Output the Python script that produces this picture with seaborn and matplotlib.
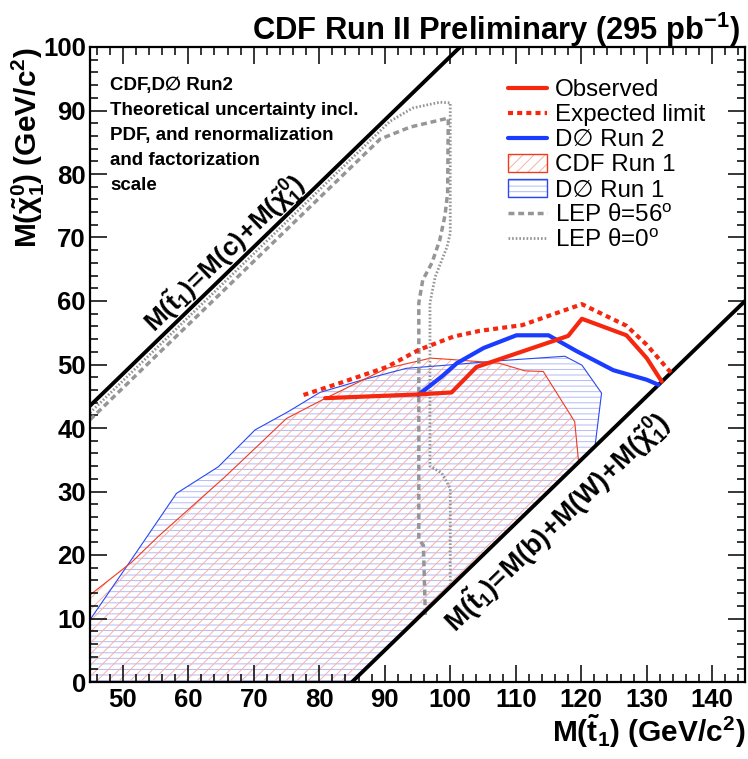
import numpy as np
import pandas as pd
import matplotlib
matplotlib.use("Agg")
import matplotlib.pyplot as plt
import seaborn as sns
from matplotlib.patches import Patch
from matplotlib.lines import Line2D
from matplotlib.legend_handler import HandlerTuple
from matplotlib.ticker import MultipleLocator

# ---------------- data ----------------
obs_x = [80.9, 95.4, 100.2, 104.0, 118.0, 120.1, 126.9, 130.0, 132.3]
obs_y = [44.7, 45.3, 45.6, 49.6, 54.5, 57.2, 54.6, 51.0, 47.3]

exp_x = [77.6, 83.5, 90.3, 95.2, 100.5, 104.5, 111.0, 120.1, 126.9, 130.0, 133.7]
exp_y = [45.2, 47.2, 49.6, 52.3, 54.4, 55.3, 56.2, 59.5, 56.1, 53.1, 48.7]

d0r2_x = [95.1, 98.7, 101.0, 105.1, 110.1, 115.0, 119.3, 124.9, 130.0, 131.8]
d0r2_y = [45.2, 48.1, 50.2, 52.6, 54.6, 54.6, 52.1, 49.1, 47.6, 46.8]

# excluded regions (closed along the kinematic limit and the axis)
cdf1_x = [45.0, 51.4, 55.4, 65.6, 70.2, 75.0, 80.6, 90.3, 97.0, 100.0, 107.5,
          111.4, 114.2, 119.0, 119.6, 85.0, 45.0]
cdf1_y = [13.7, 18.9, 22.9, 32.3, 36.8, 41.5, 44.5, 49.4, 51.0, 50.8, 50.2,
          49.0, 48.9, 41.0, 34.6, 0.0, 0.0]

d0r1_x = [45.0, 51.4, 58.2, 64.6, 70.2, 75.3, 80.1, 86.7, 93.3, 99.5, 107.6,
          117.5, 120.1, 123.1, 122.1, 85.0, 45.0]
d0r1_y = [9.8, 19.4, 29.7, 33.9, 39.7, 42.6, 45.6, 47.6, 49.4, 49.9, 50.6,
          51.3, 49.9, 45.5, 37.1, 0.0, 0.0]

lep56_x = [45.0, 89.3, 93.9, 99.7, 99.6, 99.2, 98.4, 97.2, 95.8, 95.2, 95.2, 95.9, 96.2]
lep56_y = [41.3, 85.5, 87.4, 88.8, 77.0, 73.5, 69.6, 66.0, 63.3, 59.7, 22.5, 21.5, 10.5]

lep0_x = [45.0, 90.8, 94.3, 98.4, 100.0, 100.0, 99.5, 97.7, 96.9, 96.9, 98.7, 100.0, 100.0]
lep0_y = [42.4, 88.3, 90.4, 91.3, 91.2, 70.7, 68.5, 63.8, 59.7, 34.0, 32.9, 30.5, 15.5]

# kinematic limits
kin_c_x = [45.0, 101.5]
kin_c_y = [43.5, 100.0]
kin_bw_x = [85.0, 145.0]
kin_bw_y = [0.0, 60.0]

xticks = [50, 60, 70, 80, 90, 100, 110, 120, 130, 140]
yticks = [0, 10, 20, 30, 40, 50, 60, 70, 80, 90, 100]

info_lines = ["CDF,D\u2205 Run2", "Theoretical uncertainty incl.",
              "PDF, and renormalization", "and factorization", "scale"]

legend_labels = ["Observed", "Expected limit", "D\u2205 Run 2", "CDF Run 1",
                 "D\u2205 Run 1", "LEP \u03b8=56$^{\\rm o}$", "LEP \u03b8=0$^{\\rm o}$"]

# ---------------- style ----------------
sns.set_theme(style="ticks")
plt.rcParams["font.family"] = ["Liberation Sans", "DejaVu Sans"]
plt.rcParams["mathtext.fontset"] = "custom"
plt.rcParams["mathtext.rm"] = "Liberation Sans"
plt.rcParams["mathtext.bf"] = "Liberation Sans:bold"
plt.rcParams["mathtext.it"] = "Liberation Sans:italic"
plt.rcParams["hatch.linewidth"] = 0.7
plt.rcParams["axes.axisbelow"] = False
plt.rcParams["text.color"] = "black"
plt.rcParams["axes.labelcolor"] = "black"
for a in ("xtick", "ytick"):
    plt.rcParams[f"{a}.color"] = "black"
    plt.rcParams[f"{a}.labelcolor"] = "black"
    plt.rcParams[f"{a}.direction"] = "in"
    plt.rcParams[f"{a}.major.size"] = 12.5
    plt.rcParams[f"{a}.minor.size"] = 6
    plt.rcParams[f"{a}.major.width"] = 1.1
    plt.rcParams[f"{a}.minor.width"] = 1.1
plt.rcParams["xtick.top"] = True
plt.rcParams["xtick.bottom"] = True
plt.rcParams["ytick.left"] = True
plt.rcParams["ytick.right"] = True

RED = "#f5280f"
BLUE = "#1a3cff"
RED_H = "#f6b2a6"
BLUE_H = "#b2baf7"
GRAY = "#969696"

fig = plt.figure(figsize=(7.48, 7.59), dpi=100)
ax = fig.add_axes([90 / 748, 77 / 759, 655 / 748, 635 / 759])
ax.set_axisbelow(False)

# hatched excluded regions
ax.fill(d0r1_x, d0r1_y, facecolor="none", edgecolor=BLUE_H, hatch="---", linewidth=0, zorder=1)
ax.fill(cdf1_x, cdf1_y, facecolor="none", edgecolor=RED_H, hatch="///", linewidth=0, zorder=1.1)

def line(x, y, **kw):
    df = pd.DataFrame({"x": x, "y": y})
    sns.lineplot(data=df, x="x", y="y", sort=False, estimator=None, ax=ax, **kw)

line(d0r1_x, d0r1_y, color="#2a48f0", linewidth=0.8, zorder=2)
line(cdf1_x, cdf1_y, color="#f03a1e", linewidth=0.8, zorder=2.1)

line(lep56_x, lep56_y, color=GRAY, linewidth=2.5, linestyle=(0, (1.7, 1.1)), zorder=3)
line(lep0_x, lep0_y, color=GRAY, linewidth=2.0, linestyle=(0, (0.6, 0.7)), zorder=3)

line(kin_c_x, kin_c_y, color="black", linewidth=2.8, zorder=4)
line(kin_bw_x, kin_bw_y, color="black", linewidth=2.8, zorder=4)

line(exp_x, exp_y, color=RED, linewidth=3.0, linestyle=(0, (1.2, 1.0)), zorder=5)
line(d0r2_x, d0r2_y, color=BLUE, linewidth=3.0, zorder=5)
line(obs_x, obs_y, color=RED, linewidth=3.0, zorder=6)

ax.set_xlim(45, 145)
ax.set_ylim(0, 100)
ax.set_xticks(xticks)
ax.set_xticklabels([str(v) for v in xticks], fontweight="bold")
ax.set_yticks(yticks)
ax.set_yticklabels([str(v) for v in yticks], fontweight="bold")
ax.xaxis.set_minor_locator(MultipleLocator(2))
ax.yaxis.set_minor_locator(MultipleLocator(2))
ax.tick_params(which="both", direction="in", bottom=True, left=True, top=True, right=True,
               color="black", labelcolor="black", width=1.1, labelsize=18.5)
ax.tick_params(which="major", length=12.5)
ax.tick_params(which="minor", length=6)
ax.tick_params(axis="x", pad=4)
ax.tick_params(axis="y", pad=3)
for s in ax.spines.values():
    s.set_linewidth(1.6)
    s.set_color("black")
    s.set_zorder(10)

ax.set_xlabel(r"$\mathbf{M(\tilde{t}_1)\ (GeV/c^2)}$", fontsize=21.5, loc="right", color="black")
ax.xaxis.set_label_coords(1.0, -0.047)
ax.set_ylabel(r"$\mathbf{M(\tilde{\chi}^0_1)\ (GeV/c^2)}$", fontsize=21.5, loc="top", color="black")
ax.yaxis.set_label_coords(-0.066, 1.0)

fig.text(740 / 748, 1 - 40 / 759, r"CDF Run II Preliminary (295 pb$^{\mathbf{-1}}$)",
         fontsize=22.2, fontweight="bold", ha="right", va="baseline", color="black")

for i, t in enumerate(info_lines):
    ax.text(20 / 655, (682 - (90 + 25 * i)) / 635, t, transform=ax.transAxes,
            fontsize=13.5, fontweight="bold", ha="left", va="baseline", color="black")

# labels along the kinematic lines
def angle_of(xs, ys):
    p = ax.transData.transform(np.column_stack([xs, ys]))
    return np.degrees(np.arctan2(p[1, 1] - p[0, 1], p[1, 0] - p[0, 0]))

ang_c = angle_of(kin_c_x, kin_c_y)
ang_bw = angle_of(kin_bw_x, kin_bw_y)
ax.annotate(r"$\mathbf{M(\tilde{t}_1)\!=\!M(c)\!+\!M(\tilde{\chi}^0_1)}$",
            xy=(67.2, 65.7), xytext=(-5, 5), textcoords="offset pixels",
            rotation=ang_c, rotation_mode="anchor", ha="center", va="baseline",
            fontsize=18.8, zorder=7, color="black")
ax.annotate(r"$\mathbf{M(\tilde{t}_1)\!=\!M(b)\!+\!M(W)\!+\!M(\tilde{\chi}^0_1)}$",
            xy=(113.3, 28.3), xytext=(26, -27), textcoords="offset pixels",
            rotation=ang_bw, rotation_mode="anchor", ha="center", va="baseline",
            fontsize=19.2, zorder=7, color="black")

# legend
h_obs = Line2D([], [], color=RED, lw=3.0)
h_exp = Line2D([], [], color=RED, lw=3.0, ls=(0, (1.2, 1.0)))
h_d02 = Line2D([], [], color=BLUE, lw=3.0)
h_cdf1 = (Patch(facecolor="none", edgecolor=RED_H, hatch="///", lw=0),
          Patch(facecolor="none", edgecolor="#f03a1e", lw=1.0))
h_d01 = (Patch(facecolor="none", edgecolor=BLUE_H, hatch="---", lw=0),
         Patch(facecolor="none", edgecolor="#2a48f0", lw=1.0))
h_l56 = Line2D([], [], color=GRAY, lw=2.5, ls=(0, (1.7, 1.1)))
h_l0 = Line2D([], [], color=GRAY, lw=2.0, ls=(0, (0.6, 0.7)))
leg = ax.legend([h_obs, h_exp, h_d02, h_cdf1, h_d01, h_l56, h_l0], legend_labels,
                handler_map={tuple: HandlerTuple(ndivide=1)},
                loc="upper left", bbox_to_anchor=(508 / 748, 1 - 79 / 759),
                bbox_transform=fig.transFigure, frameon=False, fontsize=17.4,
                borderpad=0, borderaxespad=0, handlelength=1.6, handletextpad=0.34,
                labelspacing=0.115, handleheight=0.75)
for t in leg.get_texts():
    t.set_color("black")
leg.set_zorder(8)

fig.savefig("out.png", dpi=100)
